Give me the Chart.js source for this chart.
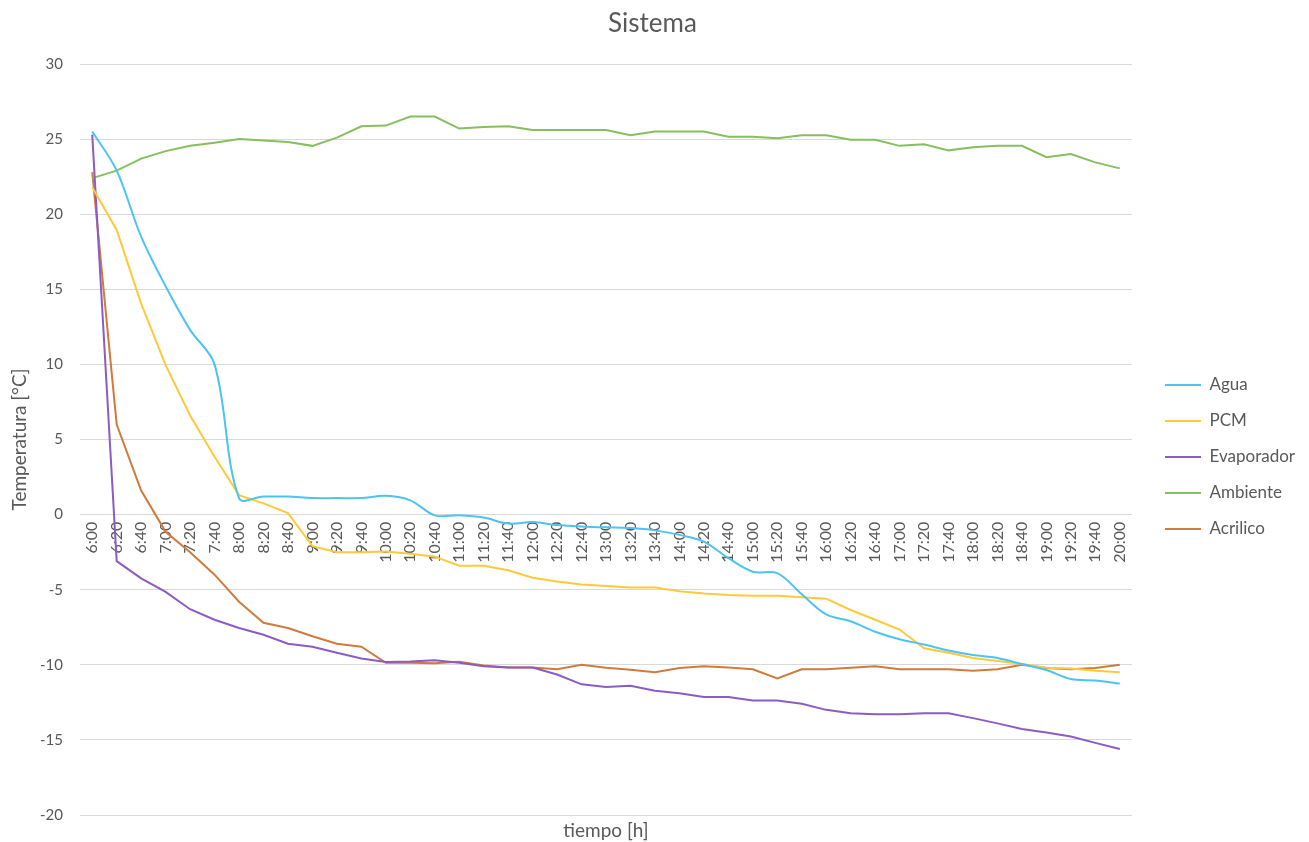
<!DOCTYPE html>
<html>
<head>
<meta charset="utf-8">
<title>Sistema</title>
<script src="https://cdn.jsdelivr.net/npm/chart.js@4/dist/chart.umd.min.js"></script>
<style>
  html, body { margin: 0; padding: 0; background: #ffffff; }
  #wrap { width: 1309px; height: 842px; position: relative; }
</style>
</head>
<body>
<div id="wrap"><canvas id="grafico"></canvas></div>
<script>
// Hora de cada lectura (cada 20 minutos)
const horas = ['6:00','6:20','6:40','7:00','7:20','7:40','8:00','8:20','8:40','9:00','9:20','9:40',
  '10:00','10:20','10:40','11:00','11:20','11:40','12:00','12:20','12:40','13:00','13:20','13:40',
  '14:00','14:20','14:40','15:00','15:20','15:40','16:00','16:20','16:40','17:00','17:20','17:40',
  '18:00','18:20','18:40','19:00','19:20','19:40','20:00'];

// Temperaturas medidas [°C]
const agua = [25.5, 22.9, 18.5, 15.2, 12.3, 10.0, 1.1, 1.2, 1.2, 1.1, 1.1, 1.1, 1.25, 0.95, -0.05,
  -0.05, -0.2, -0.6, -0.5, -0.7, -0.8, -0.85, -0.9, -1.05, -1.35, -1.8, -2.9, -3.8, -3.9, -5.3,
  -6.65, -7.1, -7.8, -8.3, -8.65, -9.05, -9.35, -9.55, -9.95, -10.35, -10.95, -11.05, -11.25];
const pcm = [21.8, 18.95, 14.05, 9.95, 6.6, 3.85, 1.3, 0.75, 0.1, -2.1, -2.5, -2.5, -2.45, -2.6,
  -2.8, -3.4, -3.4, -3.7, -4.2, -4.45, -4.65, -4.75, -4.85, -4.85, -5.1, -5.25, -5.35, -5.4, -5.4,
  -5.5, -5.6, -6.35, -7.0, -7.65, -8.9, -9.2, -9.55, -9.75, -9.95, -10.2, -10.25, -10.4, -10.5];
const evaporador = [25.3, -3.1, -4.25, -5.15, -6.3, -7.0, -7.55, -8.0, -8.6, -8.8, -9.2, -9.58,
  -9.82, -9.78, -9.7, -9.87, -10.1, -10.18, -10.18, -10.65, -11.3, -11.48, -11.4, -11.73, -11.9,
  -12.15, -12.15, -12.38, -12.38, -12.6, -13.0, -13.22, -13.3, -13.3, -13.22, -13.22, -13.55,
  -13.9, -14.27, -14.5, -14.78, -15.2, -15.6];
const ambiente = [22.4, 22.9, 23.7, 24.2, 24.55, 24.75, 25.0, 24.9, 24.8, 24.55, 25.1, 25.85, 25.9,
  26.5, 26.5, 25.7, 25.8, 25.85, 25.6, 25.6, 25.6, 25.6, 25.25, 25.5, 25.5, 25.5, 25.15, 25.15,
  25.05, 25.25, 25.25, 24.95, 24.95, 24.55, 24.65, 24.25, 24.45, 24.55, 24.55, 23.8, 24.0, 23.45, 23.05];
const acrilico = [22.8, 6.0, 1.6, -1.15, -2.5, -4.0, -5.8, -7.2, -7.55, -8.1, -8.6, -8.8, -9.87,
  -9.87, -9.9, -9.8, -10.05, -10.18, -10.18, -10.3, -10.0, -10.2, -10.33, -10.5, -10.22, -10.1,
  -10.18, -10.3, -10.9, -10.3, -10.3, -10.2, -10.1, -10.3, -10.3, -10.3, -10.4, -10.3, -10.0,
  -10.22, -10.3, -10.22, -10.0];

const GRIS_TEXTO = '#595959';
const GRIS_REJILLA = '#D9D9D9';
const FUENTE = 'Lato, "Open Sans", "DejaVu Sans", sans-serif';

Chart.defaults.font.family = FUENTE;
Chart.defaults.color = GRIS_TEXTO;

function serie(nombre, valores, color, suavizado) {
  return {
    label: nombre,
    data: valores,
    borderColor: color,
    backgroundColor: color,
    borderWidth: 2,
    pointRadius: 0,
    pointHoverRadius: 0,
    tension: suavizado,
    fill: false
  };
}

new Chart(document.getElementById('grafico'), {
  type: 'line',
  data: {
    labels: horas,
    datasets: [
      serie('Agua', agua, '#4DC3F2', 0.35),
      serie('PCM', pcm, '#FFC93A', 0),
      serie('Evaporador', evaporador, '#8B5CC4', 0),
      serie('Ambiente', ambiente, '#86BF5E', 0),
      serie('Acrilico', acrilico, '#D07A3C', 0)
    ]
  },
  options: {
    responsive: true,
    maintainAspectRatio: false,
    animation: false,
    layout: { padding: { left: 0, right: 4, top: 0, bottom: 0 } },
    plugins: {
      title: {
        display: true,
        text: 'Sistema',
        color: GRIS_TEXTO,
        font: { size: 26, weight: 'normal' },
        padding: { top: 8.4, bottom: 24.4 }
      },
      legend: {
        position: 'right',
        fullSize: false,
        title: { display: true, text: '', font: { size: 10 }, padding: { top: 0, bottom: 23 } },
        labels: {
          usePointStyle: true,
          pointStyle: 'line',
          pointStyleWidth: 36,
          padding: 19,
          color: GRIS_TEXTO,
          font: { size: 17 }
        }
      },
      tooltip: { enabled: false }
    },
    scales: {
      x: {
        type: 'category',
        offset: true,
        position: { y: 0 },
        grid: { display: false, drawTicks: false },
        border: { display: false },
        ticks: { autoSkip: false, minRotation: 90, maxRotation: 90, padding: 7, font: { size: 16 } }
      },
      xTitulo: {
        type: 'category',
        position: 'bottom',
        offset: true,
        grid: { display: false, drawTicks: false },
        border: { display: false },
        ticks: { display: false },
        title: { display: true, text: 'tiempo [h]', color: GRIS_TEXTO, font: { size: 19 }, padding: { top: 4.2, bottom: 0 } }
      },
      y: {
        min: -20,
        max: 30,
        ticks: { stepSize: 5, padding: 17, font: { size: 15 } },
        grid: { color: GRIS_REJILLA, lineWidth: 1, drawTicks: false },
        border: { display: false },
        title: { display: true, text: 'Temperatura [°C]', color: GRIS_TEXTO, font: { size: 19 }, padding: { top: 8.6, bottom: 0 } },
        afterFit: (escala) => { escala.width = 80; }
      },
      yMargen: {
        position: 'right',
        grid: { display: false, drawTicks: false },
        border: { display: false },
        ticks: { display: false },
        afterFit: (escala) => { escala.width = 14; }
      }
    }
  }
});
</script>
</body>
</html>
